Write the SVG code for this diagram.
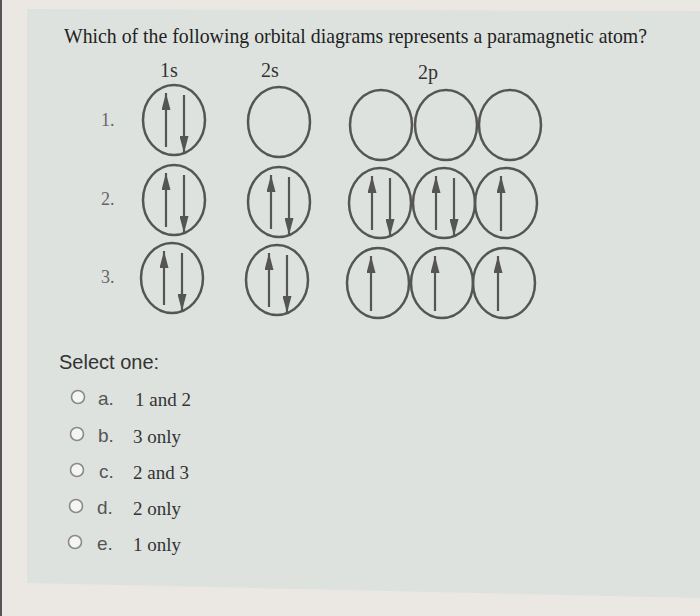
<svg xmlns="http://www.w3.org/2000/svg" width="700" height="616" viewBox="0 0 700 616">
<defs>
<marker id="ah" viewBox="0 0 17 9" markerWidth="17" markerHeight="9" refX="17" refY="4.5" orient="auto" markerUnits="userSpaceOnUse">
<path d="M0,0 L17,4.5 L0,9 z" fill="#555"/>
</marker>
</defs>
<style>
.orb{fill:none;stroke:#555;stroke-width:2.5}
.ar{stroke:#555;stroke-width:2.2;marker-end:url(#ah)}
.serif{font-family:"Liberation Serif","Times New Roman",serif}
.sans{font-family:"Liberation Sans",Arial,sans-serif}
.rl{font-size:18px;fill:#666}
.hd{font-size:20px;fill:#333}
.let{font-size:19px;fill:#555}
.ans{font-size:19px;fill:#333}
.radio{fill:#f4f5f4;stroke:#8a8a8a;stroke-width:1.6}
</style>
<rect x="0" y="0" width="700" height="616" fill="#ebe7e3"/>
<polygon points="27,9 700,11 700,598 27,583" fill="#dde2df"/>
<rect x="0" y="0" width="2" height="616" fill="#555"/>

<text class="serif" x="64" y="43" font-size="21" fill="#222" textLength="583" lengthAdjust="spacingAndGlyphs">Which of the following orbital diagrams represents a paramagnetic atom?</text>
<text class="serif hd" x="169" y="77" text-anchor="middle">1s</text>
<text class="serif hd" x="270" y="77" text-anchor="middle">2s</text>
<text class="serif hd" x="428" y="79" text-anchor="middle">2p</text>

<text class="serif rl" x="101" y="126">1.</text>
<text class="serif rl" x="101" y="205">2.</text>
<text class="serif rl" x="101" y="283">3.</text>

<g id="connectors"></g>

<g id="r1-1s" transform="translate(174,120)"><ellipse class="orb" rx="31" ry="35"/><line class="ar" x1="-8" y1="27" x2="-8" y2="-27"/><line class="ar" x1="10" y1="-25" x2="10" y2="33"/></g>
<g id="r1-2s" transform="translate(279,122)"><ellipse class="orb" rx="31" ry="35"/></g>
<g id="r1-2p1" transform="translate(381,125)"><ellipse class="orb" rx="31" ry="35"/></g>
<g id="r1-2p2" transform="translate(446,125)"><ellipse class="orb" rx="31" ry="35"/></g>
<g id="r1-2p3" transform="translate(510,125)"><ellipse class="orb" rx="31" ry="35"/></g>

<g id="r2-1s" transform="translate(174,200)"><ellipse class="orb" rx="31" ry="35"/><line class="ar" x1="-8" y1="27" x2="-8" y2="-27"/><line class="ar" x1="10" y1="-25" x2="10" y2="33"/></g>
<g id="r2-2s" transform="translate(279,202)"><ellipse class="orb" rx="31" ry="35"/><line class="ar" x1="-8" y1="27" x2="-8" y2="-27"/><line class="ar" x1="10" y1="-25" x2="10" y2="33"/></g>
<g id="r2-2p1" transform="translate(380,203)"><ellipse class="orb" rx="31" ry="35"/><line class="ar" x1="-8" y1="27" x2="-8" y2="-27"/><line class="ar" x1="10" y1="-25" x2="10" y2="33"/></g>
<g id="r2-2p2" transform="translate(444,203)"><ellipse class="orb" rx="31" ry="35"/><line class="ar" x1="-8" y1="27" x2="-8" y2="-27"/><line class="ar" x1="10" y1="-25" x2="10" y2="33"/></g>
<g id="r2-2p3" transform="translate(506,203)"><ellipse class="orb" rx="31" ry="35"/><line class="ar" x1="-5" y1="28" x2="-5" y2="-27"/></g>

<g id="r3-1s" transform="translate(172,278)"><ellipse class="orb" rx="31" ry="35"/><line class="ar" x1="-8" y1="27" x2="-8" y2="-27"/><line class="ar" x1="10" y1="-25" x2="10" y2="33"/></g>
<g id="r3-2s" transform="translate(277,280)"><ellipse class="orb" rx="31" ry="35"/><line class="ar" x1="-8" y1="27" x2="-8" y2="-27"/><line class="ar" x1="10" y1="-25" x2="10" y2="33"/></g>
<g id="r3-2p1" transform="translate(378,283)"><ellipse class="orb" rx="31" ry="35"/><line class="ar" x1="-7" y1="28" x2="-7" y2="-27"/></g>
<g id="r3-2p2" transform="translate(442,283)"><ellipse class="orb" rx="31" ry="35"/><line class="ar" x1="-7" y1="28" x2="-7" y2="-27"/></g>
<g id="r3-2p3" transform="translate(504,283)"><ellipse class="orb" rx="31" ry="35"/><line class="ar" x1="-6" y1="28" x2="-6" y2="-27"/></g>

<text class="sans" x="59" y="369" font-size="20" fill="#333">Select one:</text>

<g id="opt-a"><circle class="radio" cx="78" cy="397" r="6.5"/><text class="sans let" x="98" y="405">a.</text><text class="serif ans" x="135" y="406">1 and 2</text></g>
<g id="opt-b"><circle class="radio" cx="77" cy="434" r="6.5"/><text class="sans let" x="98" y="442">b.</text><text class="serif ans" x="133" y="443">3 only</text></g>
<g id="opt-c"><circle class="radio" cx="77" cy="470" r="6.5"/><text class="sans let" x="99" y="478">c.</text><text class="serif ans" x="133" y="479">2 and 3</text></g>
<g id="opt-d"><circle class="radio" cx="76" cy="506" r="6.5"/><text class="sans let" x="97" y="514">d.</text><text class="serif ans" x="133" y="515">2 only</text></g>
<g id="opt-e"><circle class="radio" cx="75" cy="542" r="6.5"/><text class="sans let" x="97" y="550">e.</text><text class="serif ans" x="133" y="551">1 only</text></g>
</svg>
